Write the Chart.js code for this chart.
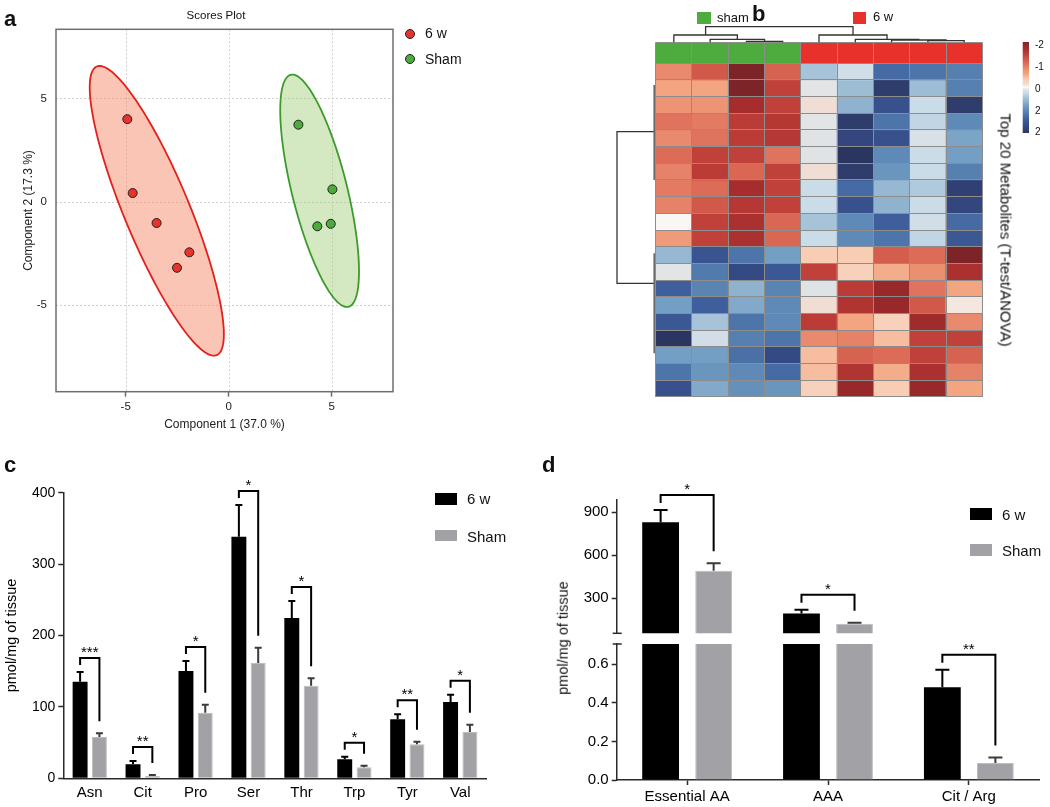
<!DOCTYPE html>
<html>
<head>
<meta charset="utf-8">
<script src="https://cdn.jsdelivr.net/npm/chart.js@4/dist/chart.umd.min.js"></script>
<style>
  body { margin: 0; width: 1050px; height: 807px; position: relative; overflow: hidden; background: #fff;
         font-family: "Liberation Sans", Arial, sans-serif; color: #111; }
  canvas { position: absolute; }
  .t { position: absolute; white-space: nowrap; line-height: 1; font-weight: normal; }
  .c { transform: translate(-50%, -50%); }
  .l { transform: translateY(-50%); }
  .letter { position: absolute; font-weight: bold; font-size: 22px; line-height: 22px; }
  .box { position: absolute; }
</style>
</head>
<body>
<canvas id="chartA" width="480" height="440" style="left:0;top:0"></canvas>
<canvas id="chartB" width="450" height="410" style="left:600px;top:0"></canvas>
<canvas id="chartC" width="530" height="357" style="left:0;top:450px"></canvas>
<canvas id="chartD1" width="520" height="186" style="left:530px;top:450px"></canvas>
<canvas id="chartD2" width="520" height="171" style="left:530px;top:636px"></canvas>

<div class="letter" style="left:4px;top:8px">a</div>
<div class="letter" style="left:752px;top:3px">b</div>
<div class="letter" style="left:4px;top:454px">c</div>
<div class="letter" style="left:542px;top:454px">d</div>

<!-- panel a -->
<div class="t c" style="left:216px;top:16px;font-size:11.5px">Scores Plot</div>
<div class="box" style="left:405px;top:29px;width:10px;height:10px;border-radius:50%;background:#e8322b;border:1px solid #222;box-sizing:border-box"></div>
<div class="t l" style="left:425px;top:33px;font-size:14px">6 w</div>
<div class="box" style="left:405px;top:54px;width:10px;height:10px;border-radius:50%;background:#4cab3c;border:1px solid #222;box-sizing:border-box"></div>
<div class="t l" style="left:425px;top:59px;font-size:14px">Sham</div>

<!-- panel b -->
<div class="box" style="left:697px;top:12px;width:14px;height:12px;background:#4eab3e"></div>
<div class="t l" style="left:717px;top:17px;font-size:13px">sham</div>
<div class="box" style="left:853px;top:12px;width:13px;height:12px;background:#e8312b"></div>
<div class="t l" style="left:873px;top:16px;font-size:13px">6 w</div>
<div class="t c" style="left:1006px;top:230px;font-size:15px;color:#111;transform:translate(-50%,-50%) rotate(90deg)">Top 20 Metabolites (T-test/ANOVA)</div>
<div id="scaleLabels"></div>

<!-- panel c legend -->
<div class="box" style="left:435px;top:493px;width:22px;height:12px;background:#000"></div>
<div class="t l" style="left:467px;top:498px;font-size:15px">6 w</div>
<div class="box" style="left:435px;top:530px;width:22px;height:11px;background:#a1a1a6"></div>
<div class="t l" style="left:467px;top:536px;font-size:15px">Sham</div>

<!-- panel d legend + axis title -->
<div class="box" style="left:970px;top:508px;width:22px;height:12px;background:#000"></div>
<div class="t l" style="left:1002px;top:514px;font-size:15px">6 w</div>
<div class="box" style="left:970px;top:544px;width:22px;height:12px;background:#a1a1a6"></div>
<div class="t l" style="left:1002px;top:550px;font-size:15px">Sham</div>
<div class="t c" style="left:563px;top:638px;font-size:14.5px;transform:translate(-50%,-50%) rotate(-90deg)">pmol/mg of tissue</div>

<script>
// ---- panel a: scores plot ----
const scoreX6w = [-4.92, -4.66, -3.50, -1.91, -2.51];
const scoreY6w = [4.00, 0.42, -1.03, -2.45, -3.20];
const scoreXSham = [3.38, 5.03, 4.30, 4.95];
const scoreYSham = [3.73, 0.60, -1.19, -1.07];
const scoreTicks = [-5, 0, 5];
// confidence ellipses, [6 w, Sham]
const ellCx = [-3.49, 4.41];
const ellCy = [-0.44, 0.53];
const ellA = [7.57, 5.79];
const ellB = [1.58, 1.34];
const ellAngle = [-67.4, -76.0];

// ---- panel b: heatmap ----
const sampleGroup = ['sham', 'sham', 'sham', 'sham', '6 w', '6 w', '6 w', '6 w', '6 w'];
const heatRows = [
  [0.85, 1.25, 2.0, 1.15, -0.45, -0.2, -1.3, -1.2, -1.1],
  [0.6, 0.6, 2.0, 1.45, -0.08, -0.5, -1.9, -0.5, -1.1],
  [0.75, 0.75, 1.7, 1.45, 0.15, -0.6, -1.6, -0.25, -1.9],
  [1.0, 0.95, 1.5, 1.55, -0.08, -1.9, -1.2, -0.3, -1.0],
  [0.85, 1.0, 1.5, 1.55, -0.1, -1.75, -1.6, -0.15, -0.75],
  [1.05, 1.45, 1.45, 1.0, -0.1, -2.0, -1.0, -0.25, -0.8],
  [0.9, 1.5, 1.1, 1.45, 0.15, -1.9, -0.9, -0.25, -1.1],
  [0.95, 1.05, 1.7, 1.45, -0.25, -1.3, -0.55, -0.4, -1.85],
  [0.9, 1.25, 1.55, 1.45, -0.25, -1.6, -0.6, -0.25, -1.75],
  [0.02, 1.45, 1.65, 1.1, -0.45, -1.0, -1.4, -0.2, -1.3],
  [0.7, 1.45, 1.65, 1.1, -0.25, -1.0, -1.2, -0.3, -1.5],
  [-0.55, -1.55, -1.2, -0.8, 0.35, 0.35, 1.2, 1.05, 2.0],
  [-0.08, -1.15, -1.7, -1.5, 1.45, 0.3, 0.55, 0.8, 1.65],
  [-1.4, -1.05, -0.6, -1.05, -0.1, 1.5, 1.8, 1.0, 0.6],
  [-0.8, -1.4, -0.7, -1.0, 0.15, 1.6, 1.8, 1.25, 0.1],
  [-1.5, -0.45, -1.2, -1.0, 1.5, 0.6, 0.3, 1.75, 0.85],
  [-2.0, -0.2, -1.1, -1.2, 0.85, 0.9, 0.45, 1.45, 1.45],
  [-0.8, -0.8, -1.25, -1.7, 0.45, 1.15, 1.05, 1.45, 1.15],
  [-1.2, -0.9, -1.0, -1.3, 0.45, 1.6, 0.55, 1.65, 0.9],
  [-1.6, -0.7, -0.95, -0.9, 0.3, 1.8, 0.35, 1.8, 0.6]
];
// column linkage: [left, right, height]; leaves 0-8, merge k = 9 + k
const colMerges = [
  [2, 3, 1.0], [1, 9, 3.0], [0, 10, 7.3],
  [7, 8, 1.6], [6, 12, 2.3], [5, 13, 3.0], [4, 14, 7.3],
  [11, 15, 15.6]
];
// row clusters (in rows): node position and the squeezed subtree span
const rowNodePos = [4.1, 13.2];
const rowSubFrom = [1.3, 11.4];
const rowSubTo = [7.0, 17.4];
const scaleLabels = ['-2', '-1', '0', '2', '2'];

// ---- panel c ----
const aaLabels = ['Asn', 'Cit', 'Pro', 'Ser', 'Thr', 'Trp', 'Tyr', 'Val'];
const aa6w = [135.3, 19.6, 150.3, 338.3, 224.5, 26.6, 82.6, 106.9];
const aa6wErr = [13.6, 4.7, 14.0, 44.4, 23.8, 3.7, 7.0, 10.2];
const aaSham = [57.9, 3.3, 91.9, 161.5, 129.7, 15.4, 47.6, 64.9];
const aaShamErr = [5.1, 1.4, 11.2, 21.5, 10.3, 2.3, 3.7, 10.2];
const aaStars = ['***', '**', '*', '*', '*', '*', '**', '*'];
const aaTicks = [0, 100, 200, 300, 400];

// ---- panel d ----
const grpLabels = ['Essential AA', 'AAA', 'Cit / Arg'];
const grp6w = [830, 193, 0.481];
const grp6wErr = [86, 26, 0.091];
const grpSham = [492, 121, 0.088];
const grpShamErr = [51, 7, 0.029];
const grpStars = ['*', '*', '**'];
const upperTicks = [300, 600, 900];
const lowerTicks = [0, 0.2, 0.4, 0.6];

Chart.defaults.font.family = '"Liberation Sans", Arial, sans-serif';
Chart.defaults.color = '#111';
Chart.defaults.animation = false;
Chart.defaults.events = [];
Chart.defaults.layout.autoPadding = false;
Chart.defaults.plugins.legend.display = false;
Chart.defaults.plugins.tooltip.enabled = false;

const AXIS = '#2a2a2a';
const GREY_BAR = '#a1a1a6';

function fixTicks(list) {
  return axis => { axis.ticks = list.map(v => ({ value: v })); };
}
// fixed axis thickness, and no extra room for half tick labels
function fixSize(prop, size) {
  return axis => {
    axis[prop] = size;
    axis.paddingTop = 0; axis.paddingBottom = 0;
  };
}

// colour map used by the heatmap and its colour key
const heatStops = [
  [-2.0, '#2b3660'], [-1.7, '#344a84'], [-1.4, '#3f5f9c'], [-1.1, '#5580b0'], [-0.8, '#749fc4'],
  [-0.5, '#9dbdd5'], [-0.25, '#c9dce8'], [-0.08, '#e3e4e5'], [0, '#fbfaf8'], [0.15, '#f0ddd3'],
  [0.35, '#f9cdb4'], [0.6, '#f3a581'], [0.85, '#e9896d'], [1.05, '#dc6c57'], [1.25, '#d0594a'],
  [1.45, '#c0403a'], [1.7, '#a62c2d'], [2.0, '#7d2428']
];
function hexRgb(h) { return [1, 3, 5].map(i => parseInt(h.slice(i, i + 2), 16)); }
function heatColor(v) {
  if (v <= heatStops[0][0]) return heatStops[0][1];
  for (let i = 1; i < heatStops.length; i++) {
    if (v <= heatStops[i][0]) {
      const [v0, c0] = heatStops[i - 1], [v1, c1] = heatStops[i];
      const t = (v - v0) / (v1 - v0);
      const a = hexRgb(c0), b = hexRgb(c1);
      return 'rgb(' + a.map((x, k) => Math.round(x + (b[k] - x) * t)).join(',') + ')';
    }
  }
  return heatStops[heatStops.length - 1][1];
}

// ================= panel a =================
const scoresPlugin = {
  id: 'scoresDeco',
  beforeDatasetsDraw(chart) {
    const { ctx, chartArea: ca, scales: { x, y } } = chart;
    ctx.save();
    ctx.strokeStyle = '#cfcfcf';
    ctx.lineWidth = 1;
    ctx.setLineDash([2, 2]);
    scoreTicks.forEach(v => {
      const px = Math.round(x.getPixelForValue(v)) + 0.5;
      const py = Math.round(y.getPixelForValue(v)) + 0.5;
      ctx.beginPath();
      ctx.moveTo(px, ca.top); ctx.lineTo(px, ca.bottom);
      ctx.moveTo(ca.left, py); ctx.lineTo(ca.right, py);
      ctx.stroke();
    });
    ctx.setLineDash([]);
    const fills = ['rgba(245,140,105,0.5)', 'rgba(160,205,120,0.45)'];
    const strokes = ['#e3201b', '#3d9b2c'];
    for (let g = 0; g < 2; g++) {
      const th = ellAngle[g] * Math.PI / 180;
      ctx.beginPath();
      for (let k = 0; k <= 180; k++) {
        const t = k / 180 * 2 * Math.PI;
        const u = ellA[g] * Math.cos(t), w = ellB[g] * Math.sin(t);
        const dx = ellCx[g] + u * Math.cos(th) - w * Math.sin(th);
        const dy = ellCy[g] + u * Math.sin(th) + w * Math.cos(th);
        const px = x.getPixelForValue(dx), py = y.getPixelForValue(dy);
        if (k === 0) ctx.moveTo(px, py); else ctx.lineTo(px, py);
      }
      ctx.closePath();
      ctx.fillStyle = fills[g];
      ctx.fill();
      ctx.strokeStyle = strokes[g];
      ctx.lineWidth = 1.8;
      ctx.stroke();
    }
    ctx.restore();
  },
  afterDraw(chart) {
    const { ctx, chartArea: ca } = chart;
    ctx.save();
    ctx.strokeStyle = '#6e6e6e';
    ctx.lineWidth = 1.5;
    ctx.strokeRect(ca.left, ca.top, ca.right - ca.left, ca.bottom - ca.top);
    ctx.restore();
  }
};

new Chart(document.getElementById('chartA'), {
  type: 'scatter',
  data: {
    datasets: [
      { label: '6 w', data: scoreX6w.map((v, i) => ({ x: v, y: scoreY6w[i] })),
        backgroundColor: '#e8322b', borderColor: '#222', borderWidth: 1, pointRadius: 4.5 },
      { label: 'Sham', data: scoreXSham.map((v, i) => ({ x: v, y: scoreYSham[i] })),
        backgroundColor: '#4cab3c', borderColor: '#222', borderWidth: 1, pointRadius: 4.5 }
    ]
  },
  options: {
    responsive: false, devicePixelRatio: 1,
    layout: { padding: { left: 0, right: 87, top: 29.3, bottom: 0 } },
    scales: {
      x: {
        min: -8.38, max: 7.97,
        afterBuildTicks: fixTicks(scoreTicks),
        afterFit: a => { a.height = 48.3; },
        grid: { drawOnChartArea: false, drawTicks: true, tickLength: 5, tickColor: '#6e6e6e', tickWidth: 1.5 },
        border: { display: false },
        ticks: { font: { size: 11.5 }, padding: 3, color: '#222' },
        title: { display: true, text: 'Component 1 (37.0 %)', font: { size: 12 }, color: '#222', padding: { top: 0, bottom: 7.8 } }
      },
      y: {
        min: -9.2, max: 8.35,
        afterBuildTicks: fixTicks(scoreTicks),
        afterFit: fixSize('width', 56),
        grid: { drawOnChartArea: false, drawTicks: false },
        border: { display: false },
        ticks: { font: { size: 11.5 }, padding: 9, color: '#222' },
        title: { display: true, text: 'Component 2 (17.3 %)', font: { size: 12 }, color: '#222', padding: { top: 21, bottom: 0 } }
      }
    }
  },
  plugins: [scoresPlugin]
});

// ================= panel b =================
const annH = 1.26;
const rowBounds = [0, annH].concat(heatRows.map((r, i) => annH + i + 1));
const heatDatasets = [{
  data: sampleGroup.map(() => annH),
  backgroundColor: sampleGroup.map(g => g === 'sham' ? '#4eab3e' : '#e8312b'),
  stack: 'hm'
}].concat(heatRows.map(row => ({
  data: row.map(() => 1),
  backgroundColor: row.map(heatColor),
  stack: 'hm'
})));

const heatPlugin = {
  id: 'heatDeco',
  afterDraw(chart) {
    const { ctx, chartArea: ca, scales: { x, y } } = chart;
    ctx.save();
    // column dendrogram
    const pos = sampleGroup.map((g, i) => i);
    const hgt = sampleGroup.map(() => 0);
    ctx.strokeStyle = '#333';
    ctx.lineWidth = 1.3;
    colMerges.forEach(([l, r, h]) => {
      const xl = x.getPixelForValue(pos[l]), xr = x.getPixelForValue(pos[r]);
      const yTop = ca.top - h;
      ctx.beginPath();
      ctx.moveTo(xl, ca.top - hgt[l]); ctx.lineTo(xl, yTop);
      ctx.lineTo(xr, yTop); ctx.lineTo(xr, ca.top - hgt[r]);
      ctx.stroke();
      pos.push((pos[l] + pos[r]) / 2);
      hgt.push(h);
    });
    // row dendrogram
    const xRoot = ca.left - 38.7;
    const yA = y.getPixelForValue(annH + rowNodePos[0]);
    const yB = y.getPixelForValue(annH + rowNodePos[1]);
    ctx.beginPath();
    ctx.moveTo(ca.left - 1, yA); ctx.lineTo(xRoot, yA); ctx.lineTo(xRoot, yB); ctx.lineTo(ca.left - 1, yB);
    ctx.stroke();
    ctx.strokeStyle = '#6a6a6a';
    ctx.lineWidth = 1.6;
    rowSubFrom.forEach((r0, k) => {
      ctx.beginPath();
      ctx.moveTo(ca.left - 1.5, y.getPixelForValue(annH + r0));
      ctx.lineTo(ca.left - 1.5, y.getPixelForValue(annH + rowSubTo[k]));
      ctx.stroke();
    });
    // colour key
    const kx = ca.right + 40.4, ky0 = 42, ky1 = 133;
    const grad = ctx.createLinearGradient(0, ky0, 0, ky1);
    heatStops.forEach(([v, c]) => grad.addColorStop((2 - v) / 4, c));
    ctx.fillStyle = grad;
    ctx.fillRect(kx, ky0, 6.3, ky1 - ky0);
    ctx.restore();
  }
};

new Chart(document.getElementById('chartB'), {
  type: 'bar',
  data: { labels: sampleGroup, datasets: heatDatasets },
  options: {
    responsive: false, devicePixelRatio: 1,
    layout: { padding: { left: 55.7, right: 67.7, top: 42.3, bottom: 13.3 } },
    datasets: { bar: { barPercentage: 1, categoryPercentage: 1, borderWidth: 0 } },
    scales: {
      x: {
        stacked: true, offset: true,
        afterFit: a => { a.height = 0; },
        grid: { offset: true, color: '#8d8d8d', lineWidth: 1, drawTicks: false, z: 1 },
        border: { display: false },
        ticks: { display: false }
      },
      y: {
        stacked: true, reverse: true, min: 0, max: annH + heatRows.length,
        afterBuildTicks: fixTicks(rowBounds),
        afterFit: fixSize('width', 0),
        grid: { color: '#8d8d8d', lineWidth: 1, drawTicks: false, z: 1 },
        border: { display: false },
        ticks: { display: false }
      }
    }
  },
  plugins: [heatPlugin]
});

// colour key labels
const keyY = [45, 66.7, 89.3, 110.7, 131.7];
document.getElementById('scaleLabels').innerHTML = scaleLabels.map((s, i) =>
  '<div class="t l" style="left:1035px;top:' + keyY[i] + 'px;font-size:10px">' + s + '</div>').join('');

// ================= bars: error bars + significance brackets =================
function barMarks(id, vals, errs, stars, cap, gapL, leg, gapR) {
  return {
    id: id,
    afterDatasetsDraw(chart) {
      const { ctx, scales: { y } } = chart;
      const metas = [chart.getDatasetMeta(0), chart.getDatasetMeta(1)];
      const inRange = v => v != null && v >= y.min && v <= y.max;
      ctx.save();
      ctx.lineWidth = 2;
      metas.forEach((meta, d) => {
        meta.data.forEach((bar, i) => {
          const v = vals[d][i];
          if (!inRange(v)) return;
          const top = y.getPixelForValue(v + errs[d][i]);
          ctx.strokeStyle = d ? '#3a3a3a' : '#000';
          ctx.beginPath();
          ctx.moveTo(bar.x, bar.y); ctx.lineTo(bar.x, top);
          ctx.moveTo(bar.x - cap, top); ctx.lineTo(bar.x + cap, top);
          ctx.stroke();
        });
      });
      ctx.strokeStyle = '#000';
      ctx.fillStyle = '#000';
      ctx.font = '15px "Liberation Sans", Arial, sans-serif';
      ctx.textAlign = 'center';
      ctx.textBaseline = 'alphabetic';
      stars.forEach((s, i) => {
        if (!inRange(vals[0][i])) return;
        const x0 = metas[0].data[i].x, x1 = metas[1].data[i].x;
        const yL = y.getPixelForValue(vals[0][i] + errs[0][i]) - gapL;
        const yH = yL - leg;
        const yR = y.getPixelForValue(vals[1][i] + errs[1][i]) - gapR;
        ctx.beginPath();
        ctx.moveTo(x0, yL); ctx.lineTo(x0, yH); ctx.lineTo(x1, yH); ctx.lineTo(x1, yR);
        ctx.stroke();
        ctx.fillText(s, (x0 + x1) / 2, yH - 1);
      });
      ctx.restore();
    }
  };
}

// ================= panel c =================
new Chart(document.getElementById('chartC'), {
  type: 'bar',
  data: {
    labels: aaLabels,
    datasets: [
      { label: '6 w', data: aa6w, backgroundColor: '#000' },
      { label: 'Sham', data: aaSham, backgroundColor: GREY_BAR, borderColor: '#bdbdc0', borderWidth: 1 }
    ]
  },
  options: {
    responsive: false, devicePixelRatio: 1,
    layout: { padding: { left: 0, right: 43.3, top: 42.7, bottom: 0 } },
    datasets: { bar: { categoryPercentage: 0.73, barPercentage: 0.773 } },
    scales: {
      x: {
        afterFit: a => { a.height = 28.7; },
        grid: { drawOnChartArea: false, drawTicks: false },
        border: { color: AXIS, width: 1.5 },
        ticks: { font: { size: 15 }, padding: 6, color: '#000' }
      },
      y: {
        min: 0, max: 400,
        afterBuildTicks: fixTicks(aaTicks),
        afterFit: fixSize('width', 63.3),
        grid: { drawOnChartArea: false, tickLength: 5, tickColor: AXIS, tickWidth: 1.5 },
        border: { color: AXIS, width: 1.5 },
        ticks: { font: { size: 14 }, padding: 3, color: '#000' },
        title: { display: true, text: 'pmol/mg of tissue', font: { size: 14.5 }, color: '#000', padding: { top: 3.3, bottom: 0 } }
      }
    }
  },
  plugins: [barMarks('marksC', [aa6w, aaSham], [aa6wErr, aaShamErr], aaStars, 3.5, 7, 7, 12)]
});

// ================= panel d (broken axis: two stacked charts) =================
const upperMin = 54, upperMax = 991, lowerMax = 0.705;
function breakMark(where) {
  return {
    id: 'break' + where,
    afterDraw(chart) {
      const { ctx, chartArea: ca } = chart;
      const yy = where === 'bottom' ? ca.bottom : ca.top;
      ctx.save();
      ctx.strokeStyle = AXIS;
      ctx.lineWidth = 1.5;
      ctx.beginPath();
      ctx.moveTo(ca.left - 4, yy); ctx.lineTo(ca.left + 5, yy);
      ctx.stroke();
      ctx.restore();
    }
  };
}
function dOptions(part) {
  const upper = part === 'upper';
  return {
    responsive: false, devicePixelRatio: 1,
    layout: { padding: { left: 0, right: 10.7, top: upper ? 49.3 : 8, bottom: upper ? 2.7 : 0 } },
    datasets: { bar: { categoryPercentage: 0.753, barPercentage: 0.694, clip: 0 } },
    scales: {
      x: upper ? { display: false } : {
        afterFit: a => { a.height = 27; },
        grid: { offset: false, drawOnChartArea: false, tickLength: 5, tickColor: AXIS, tickWidth: 1.5 },
        border: { color: AXIS, width: 1.5 },
        ticks: { font: { size: 15 }, padding: 3, color: '#000' }
      },
      y: {
        min: upper ? upperMin : 0, max: upper ? upperMax : lowerMax,
        afterBuildTicks: fixTicks(upper ? upperTicks : lowerTicks),
        afterFit: fixSize('width', 86.7),
        grid: { drawOnChartArea: false, tickLength: 5, tickColor: AXIS, tickWidth: 1.5 },
        border: { color: AXIS, width: 1.5 },
        ticks: { font: { size: 15 }, padding: 3, color: '#000',
                 callback: v => upper ? String(v) : v.toFixed(1) }
      }
    }
  };
}
const upper6w = grp6w.map(v => v >= upperMin ? v : null);
const upperSham = grpSham.map(v => v >= upperMin ? v : null);

new Chart(document.getElementById('chartD1'), {
  type: 'bar',
  data: {
    labels: grpLabels,
    datasets: [
      { label: '6 w', data: upper6w, backgroundColor: '#000' },
      { label: 'Sham', data: upperSham, backgroundColor: GREY_BAR, borderColor: '#bdbdc0', borderWidth: 1 }
    ]
  },
  options: dOptions('upper'),
  plugins: [barMarks('marksD1', [upper6w, upperSham], [grp6wErr, grpShamErr], grpStars, 7, 7, 8, 12), breakMark('bottom')]
});

new Chart(document.getElementById('chartD2'), {
  type: 'bar',
  data: {
    labels: grpLabels,
    datasets: [
      { label: '6 w', data: grp6w, backgroundColor: '#000' },
      { label: 'Sham', data: grpSham, backgroundColor: GREY_BAR, borderColor: '#bdbdc0', borderWidth: 1 }
    ]
  },
  options: dOptions('lower'),
  plugins: [barMarks('marksD2', [grp6w, grpSham], [grp6wErr, grpShamErr], grpStars, 7, 7, 8, 12), breakMark('top')]
});
</script>
</body>
</html>
